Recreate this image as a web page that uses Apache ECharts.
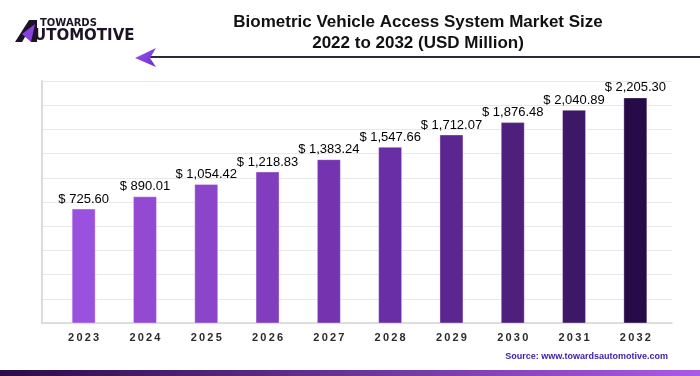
<!DOCTYPE html>
<html>
<head>
<meta charset="utf-8">
<script src="https://cdn.jsdelivr.net/npm/echarts@6/dist/echarts.min.js"></script>
<style>
  html, body { margin: 0; padding: 0; background: #fff; }
  #chart { width: 700px; height: 376px; }
</style>
</head>
<body>
<div id="chart"></div>
<script>
  // data
  var years = ['2023', '2024', '2025', '2026', '2027', '2028', '2029', '2030', '2031', '2032'];
  var marketSize = [725.60, 890.01, 1054.42, 1218.83, 1383.24, 1547.66, 1712.07, 1876.48, 2040.89, 2205.30];
  var titleLines = ['Biometric Vehicle Access System Market Size', '2022 to 2032 (USD Million)'];
  var sourceText = 'Source: www.towardsautomotive.com';

  // bars get darker year by year
  var barColors = ['#9b51e0', '#9449d3', '#8b45c9', '#803dbd', '#7434b0',
                   '#692ea4', '#5c2690', '#4e1f7d', '#3d1866', '#270b48'];

  // the value axis of the original does not start at zero
  var Y_MIN = -790, Y_MAX = 2430, Y_STEP = 322;

  var chart = echarts.init(document.getElementById('chart'));

  function money(v) {
    return '$ ' + v.toLocaleString('en-US', { minimumFractionDigits: 2, maximumFractionDigits: 2 });
  }

  var option = {
    animation: false,
    grid: [
      { left: 42, right: 28, top: 81, bottom: 53 },   // grid lines only
      { left: 53, right: 34, top: 81, bottom: 53 }    // bars
    ],
    xAxis: [
      {
        gridIndex: 0, type: 'category', data: years,
        axisLine: { onZero: false, lineStyle: { color: '#d6d6d6', width: 1.5 } },
        axisTick: { show: false }, axisLabel: { show: false }
      },
      {
        gridIndex: 1, type: 'category', data: years,
        axisLine: { show: false, onZero: false }, axisTick: { show: false },
        axisLabel: {
          margin: 9,
          fontFamily: 'Liberation Sans, Arial, sans-serif',
          fontSize: 11, fontWeight: 'bold', color: '#2b2b2b',
          formatter: function (v) { return v.split('').join('\u2009'); }
        }
      }
    ],
    yAxis: [
      {
        gridIndex: 0, type: 'value', min: Y_MIN, max: Y_MAX, interval: Y_STEP,
        axisLine: { show: true, lineStyle: { color: '#dcdcdc', width: 2 } },
        axisTick: { show: false }, axisLabel: { show: false },
        splitLine: { lineStyle: { color: '#e8e8e8', width: 1 } }
      },
      {
        gridIndex: 1, type: 'value', min: Y_MIN, max: Y_MAX, interval: Y_STEP,
        axisLine: { show: false }, axisTick: { show: false }, axisLabel: { show: false },
        splitLine: { show: false }
      }
    ],
    series: [
      {
        type: 'custom',
        xAxisIndex: 1, yAxisIndex: 1,
        data: marketSize.map(function (v, i) { return [i, v]; }),
        renderItem: function (params, api) {
          var top = api.coord([api.value(0), api.value(1)]);
          var bottom = api.coord([api.value(0), Y_MIN]);
          var w = api.size([1, 0])[0] * 0.375;
          return {
            type: 'rect',
            shape: { x: top[0] - w / 2, y: top[1], width: w, height: bottom[1] - top[1] },
            style: { fill: barColors[params.dataIndex], stroke: 'rgba(255,255,255,0.35)', lineWidth: 1 },
            textContent: {
              style: {
                text: money(api.value(1)),
                fontFamily: 'Liberation Sans, Arial, sans-serif',
                fontSize: 13, fill: '#000'
              }
            },
            textConfig: { position: 'top', distance: 3 }
          };
        }
      }
    ],
    graphic: [
      // title
      {
        type: 'text', x: 418, y: 12,
        style: {
          text: titleLines.join('\n'),
          align: 'center', verticalAlign: 'top',
          font: 'bold 17px "Liberation Sans", Arial, sans-serif', lineHeight: 21, fill: '#111'
        }
      },
      // line with arrow under the title
      {
        type: 'line', shape: { x1: 148, y1: 57, x2: 700, y2: 57 },
        style: { stroke: '#2d2a3e', lineWidth: 2 }
      },
      {
        type: 'polygon',
        shape: { points: [[135, 58], [156, 48], [150, 58], [156, 67]] },
        style: {
          fill: new echarts.graphic.LinearGradient(0, 0, 1, 1, [
            { offset: 0, color: '#9b59f0' }, { offset: 1, color: '#6a2bd0' }
          ])
        }
      },
      // logo
      {
        type: 'polygon',
        shape: { points: [[15, 42], [29, 20], [37, 20], [37, 42], [31, 42], [31, 37], [25, 37], [22, 42]] },
        style: { fill: '#1c1426' }
      },
      {
        type: 'polygon',
        shape: { points: [[22, 34], [35, 24], [31, 42]] },
        style: { fill: '#8a3fe0' }
      },
      {
        type: 'text', left: 40, top: 18,
        style: { text: 'TOWARDS', font: '900 10px "DejaVu Sans", Arial, sans-serif', fill: '#1c1426' }
      },
      {
        type: 'text', left: 34, top: 29,
        style: { text: 'UTOMOTIVE', font: 'bold 15px "DejaVu Sans", Arial, sans-serif', fill: '#1c1426' }
      },
      // source
      {
        type: 'text', right: 32, top: 352,
        style: { text: sourceText, font: 'bold 9px "Liberation Sans", Arial, sans-serif', fill: '#3a1aa8' }
      },
      // bottom band
      {
        type: 'rect', shape: { x: 0, y: 370, width: 700, height: 6 },
        style: {
          fill: new echarts.graphic.LinearGradient(0, 0, 1, 0, [
            { offset: 0, color: '#2a0c45' }, { offset: 1, color: '#a95ae8' }
          ])
        }
      }
    ]
  };

  chart.setOption(option);
</script>
</body>
</html>
